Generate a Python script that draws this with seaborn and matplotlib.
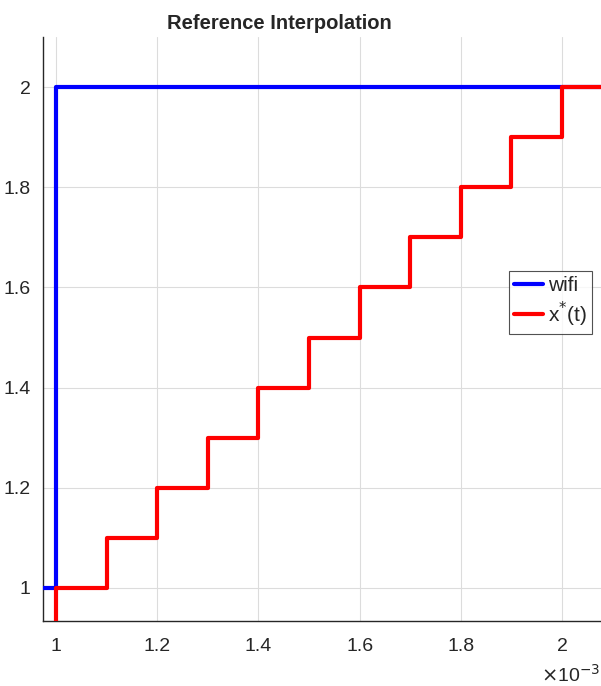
import matplotlib
matplotlib.use("Agg")
import matplotlib.pyplot as plt
import seaborn as sns
import pandas as pd
import numpy as np

# Time samples (seconds) and signal levels
wifi_t = [0.9e-3, 1.0e-3, 2.1e-3]
wifi_y = [1.0, 2.0, 2.0]

ref_t = [0.9e-3, 1.0e-3, 1.1e-3, 1.2e-3, 1.3e-3, 1.4e-3, 1.5e-3, 1.6e-3,
         1.7e-3, 1.8e-3, 1.9e-3, 2.0e-3, 2.1e-3]
ref_y = [0.9, 1.0, 1.1, 1.2, 1.3, 1.4, 1.5, 1.6, 1.7, 1.8, 1.9, 2.0, 2.0]

x_ticks = [1.0, 1.2, 1.4, 1.6, 1.8, 2.0]
x_tick_labels = ["1", "1.2", "1.4", "1.6", "1.8", "2"]
y_ticks = [1.0, 1.2, 1.4, 1.6, 1.8, 2.0]
y_tick_labels = ["1", "1.2", "1.4", "1.6", "1.8", "2"]

sns.set_style("white")
plt.rcParams["font.family"] = ["Liberation Sans", "DejaVu Sans"]

wifi_df = pd.DataFrame({"t_ms": np.array(wifi_t) * 1e3, "y": wifi_y})
ref_df = pd.DataFrame({"t_ms": np.array(ref_t) * 1e3, "y": ref_y})

fig = plt.figure(figsize=(6.01, 6.86), dpi=100)
ax = fig.add_axes([43 / 601, 1 - 621 / 686, 558 / 601, 584 / 686])

sns.lineplot(data=wifi_df, x="t_ms", y="y", ax=ax, color="#0000ff", lw=3,
             drawstyle="steps-post", label="wifi", zorder=3)
sns.lineplot(data=ref_df, x="t_ms", y="y", ax=ax, color="#ff0000", lw=3,
             drawstyle="steps-post", label=r"x$^{*}$(t)", zorder=4)

ax.set_xlim(0.9743, 2.077)
ax.set_ylim(0.934, 2.1)
ax.set_xticks(x_ticks)
ax.set_xticklabels(x_tick_labels)
ax.set_yticks(y_ticks)
ax.set_yticklabels(y_tick_labels)
ax.set_xlabel("")
ax.set_ylabel("")

ax.grid(True, color="#dcdcdc", lw=0.8)
ax.set_axisbelow(True)
for side in ("top", "right"):
    ax.spines[side].set_visible(False)
for side in ("left", "bottom"):
    ax.spines[side].set_color("#262626")
    ax.spines[side].set_linewidth(1.0)
ax.tick_params(direction="in", length=4, width=0.8, colors="#262626",
               labelsize=14, labelcolor="#262626")
ax.tick_params(axis="x", pad=12)
ax.tick_params(axis="y", pad=9)

ax.set_title("Reference Interpolation", fontsize=14.5, fontweight="bold",
             x=(279 - 43) / 558, pad=6)

fig.text(0.998, 1 - 675 / 686, r"$\times$10$^{-3}$", ha="right", va="center",
         fontsize=14, color="#262626")

leg = ax.legend(loc="upper left", bbox_to_anchor=(509 / 601, 1 - 271 / 686),
                bbox_transform=fig.transFigure, fontsize=15, frameon=True,
                fancybox=False, edgecolor="#262626", handlelength=1.4,
                handletextpad=0.2, borderpad=0.25, labelspacing=0.2,
                borderaxespad=0)
leg.get_frame().set_linewidth(0.8)

fig.savefig("out.png", dpi=100)
